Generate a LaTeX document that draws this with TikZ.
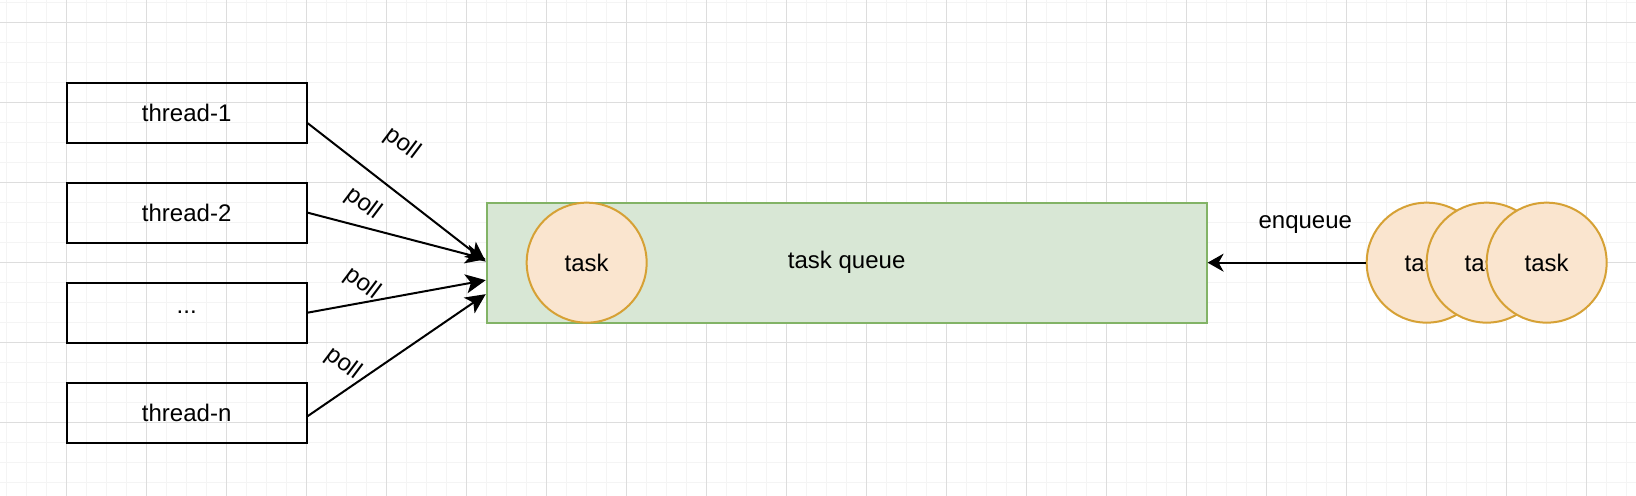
\documentclass[tikz,border=0pt]{standalone}
\usepackage{fontspec}
\setmainfont{Liberation Sans}
\usetikzlibrary{arrows.meta}

\definecolor{gridmajor}{HTML}{DDDDDD}
\definecolor{gridminor}{HTML}{F4F4F4}
\definecolor{queuefill}{HTML}{D8E7D5}
\definecolor{queuedraw}{HTML}{82B366}
\definecolor{taskfill}{HTML}{FAE5CF}
\definecolor{taskdraw}{HTML}{D6A135}

\begin{document}
\begin{tikzpicture}[x=0.02cm,y=-0.02cm,font=\fontsize{13.66}{16}\selectfont]
% definizione degli stili dei nodi
\tikzset{threadbox/.style={rectangle,draw,line width=0.04cm,minimum width=4.8cm,minimum height=1.2cm}}
\tikzset{queuebox/.style={rectangle,fill=queuefill,draw=queuedraw,line width=0.04cm,minimum width=14.4cm,minimum height=2.4cm}}
\tikzset{taskball/.style={circle,fill=taskfill,draw=taskdraw,line width=0.04cm,minimum size=2.4cm,inner sep=0pt}}
% definizione delle frecce e delle etichette
\tikzset{pollarrow/.style={-{Stealth[length=0.4cm,width=0.38cm,inset=0.1cm]},line width=0.04cm}}
\tikzset{enqarrow/.style={-{Stealth[length=0.32cm,width=0.36cm,inset=0.1cm]},line width=0.04cm}}
\tikzset{polllabel/.style={rotate=-37,inner sep=0pt}}

\useasboundingbox (0,0) rectangle (1636,496);
%----
% griglia di sfondo
\foreach \x in {6.67,26.67,...,1636}
\draw[gridminor,line width=0.03cm] (\x,0)--(\x,496);
\foreach \y in {2.67,22.67,...,496}
\draw[gridminor,line width=0.03cm] (0,\y)--(1636,\y);
\foreach \x in {66.67,146.67,...,1636}
\draw[gridmajor,line width=0.03cm] (\x,0)--(\x,496);
\foreach \y in {22.67,102.67,...,496}
\draw[gridmajor,line width=0.03cm] (0,\y)--(1636,\y);

% inserimento nodi dei thread
\foreach \n/\y/\txt in {t1/112.67/thread-1,t2/212.67/thread-2,t4/412.67/thread-n}
\node[threadbox] (\n) at (186.67,\y) {\txt};
\node[threadbox] (t3) at (186.67,312.67) {...};

% inserimento coda e task
\node[queuebox] (queue) at (846.67,262.67) {task queue};
\node[taskball] (tq) at (586.67,262.67) {task};
\foreach \n/\x in {tr1/1426.67,tr2/1486.67,tr3/1546.67}
\node[taskball] (\n) at (\x,262.67) {task};

% inserimento frecce poll
\draw[pollarrow] ([yshift=-0.21cm]t1.east) -- ([yshift=0.02cm]queue.west);
\draw[pollarrow] (t2.east) -- ([yshift=0.07cm]queue.west);
\draw[pollarrow] (t3.east) -- ([yshift=-0.35cm]queue.west);
\draw[pollarrow] ([yshift=-0.07cm]t4.east) -- ([yshift=-0.63cm]queue.west);
% inserimento label poll
\foreach \n/\p in {lp1/{(402.3,144)},lp2/{(363.3,204)},lp3/{(362.3,283.3)},lp4/{(343.3,364)}}
\node[polllabel] (\n) at \p {poll};

% inserimento freccia enqueue
\draw[enqarrow] (tr1.west) -- (queue.east);
\node (enq) at (1305.3,225) {enqueue};
\end{tikzpicture}
\end{document}
